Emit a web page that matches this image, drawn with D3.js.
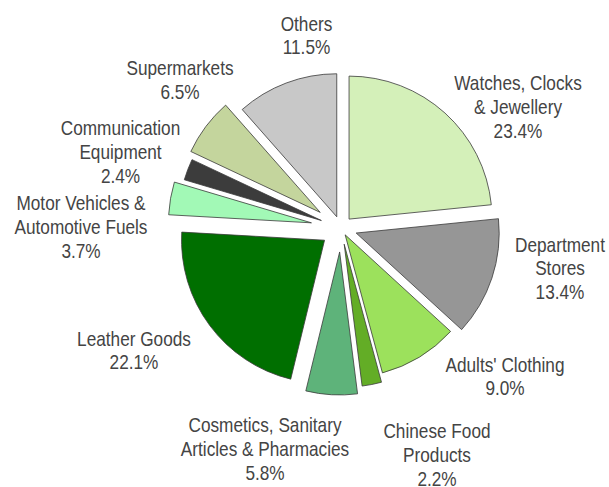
<!DOCTYPE html>
<html>
<head>
<meta charset="utf-8">
<script src="https://cdn.jsdelivr.net/npm/d3@7"></script>
<style>
  html, body { margin: 0; padding: 0; background: #fff; }
  svg { display: block; }
</style>
</head>
<body>
<script>
const width = 609;
const height = 487;

// data
const categories = [
    'Watches, Clocks & Jewellery',
    'Department Stores',
    "Adults' Clothing",
    'Chinese Food Products',
    'Cosmetics, Sanitary Articles & Pharmacies',
    'Leather Goods',
    'Motor Vehicles & Automotive Fuels',
    'Communication Equipment',
    'Supermarkets',
    'Others'
];
const shares = [23.4, 13.4, 9.0, 2.2, 5.8, 22.1, 3.7, 2.4, 6.5, 11.5];
const labelLines = [
    ['Watches, Clocks', '& Jewellery'],
    ['Department', 'Stores'],
    ["Adults' Clothing"],
    ['Chinese Food', 'Products'],
    ['Cosmetics, Sanitary', 'Articles & Pharmacies'],
    ['Leather Goods'],
    ['Motor Vehicles &', 'Automotive Fuels'],
    ['Communication', 'Equipment'],
    ['Supermarkets'],
    ['Others']
];

// styling / layout
const colors = ['#d4f0b9', '#969696', '#9ce15c', '#63ad26', '#5eb37a',
    '#006f00', '#a2f9b6', '#3c3c3c', '#c4d59d', '#c8c8c8'];
const explode = [12, 16, 8, 16.5, 24, 20.5, 30, 21, 26, 12];
const labelAt = [
    [518, 90], [560, 251.5], [505, 371.5], [437, 438], [265, 432],
    [134, 345.5], [81, 210], [120.5, 135], [180, 75], [306.5, 30.5]
];
const cx = 341, cy = 228, radius = 143, lineH = 23.8;

const svg = d3.select('body')
    .append('svg')
    .attr('width', width)
    .attr('height', height);

const pie = d3.pie().sort(null).value((d) => d)(shares);
const arc = d3.arc().innerRadius(0).outerRadius(radius);

svg.append('g')
    .attr('transform', `translate(${cx},${cy})`)
    .selectAll('path')
    .data(pie)
    .join('path')
    .attr('transform', (d, i) => {
        const mid = (d.startAngle + d.endAngle) / 2;
        return `translate(${Math.sin(mid) * explode[i]},${-Math.cos(mid) * explode[i]})`;
    })
    .attr('d', arc)
    .attr('fill', (d, i) => colors[i])
    .attr('stroke', '#3a3a3a')
    .attr('stroke-width', 0.8)
    .attr('stroke-linejoin', 'miter');

// condensed look: Liberation Sans squeezed horizontally
const labels = svg.append('g')
    .attr('font-family', '"Liberation Sans", Arial, sans-serif')
    .attr('font-size', 21)
    .attr('fill', '#444')
    .attr('text-anchor', 'middle')
    .selectAll('text')
    .data(categories)
    .join('text')
    .attr('transform', (d, i) => `translate(${labelAt[i][0]},${labelAt[i][1]}) scale(0.82,1)`);

labels.each(function (d, i) {
    const t = d3.select(this);
    const lines = labelLines[i].concat([shares[i].toFixed(1) + '%']);
    lines.forEach((s, k) => {
        t.append('tspan')
            .attr('x', 0)
            .attr('dy', k === 0 ? 0 : lineH)
            .text(s);
    });
});
</script>
</body>
</html>
